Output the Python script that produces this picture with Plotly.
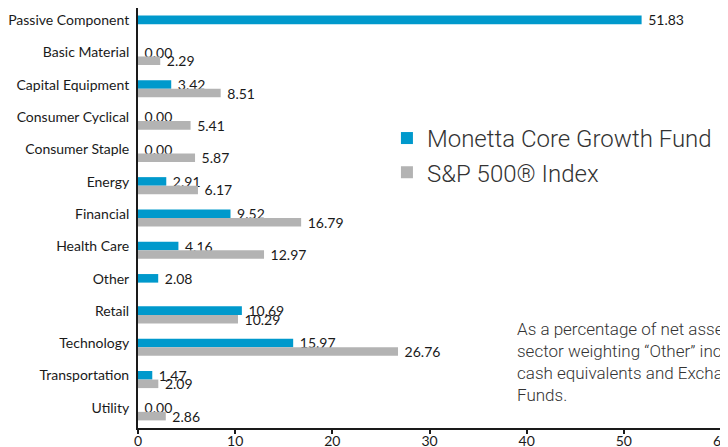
import plotly.graph_objects as go

categories = ["Passive Component", "Basic Material", "Capital Equipment", "Consumer Cyclical",
              "Consumer Staple", "Energy", "Financial", "Health Care", "Other", "Retail",
              "Technology", "Transportation", "Utility"]
fund_values = [51.83, 0.00, 3.42, 0.00, 0.00, 2.91, 9.52, 4.16, 2.08, 10.69, 15.97, 1.47, 0.00]
index_values = [None, 2.29, 8.51, 5.41, 5.87, 6.17, 16.79, 12.97, None, 10.29, 26.76, 2.09, 2.86]
x_ticks = [0, 10, 20, 30, 40, 50, 60]
series_names = ["Monetta Core Growth Fund", "S&P 500® Index"]
note_text = ("As a percentage of net assets. The<br>sector weighting “Other” includes<br>"
             "cash equivalents and Exchange Traded<br>Funds.")

BLUE = "#0099cc"
GRAY = "#b3b3b3"
LABEL_FONT = dict(family="Lato, Carlito, Open Sans, sans-serif", size=14, color="#1a1a1a")

fig = go.Figure()
fig.add_trace(go.Bar(
    y=categories, x=fund_values, orientation="h", name=series_names[0],
    marker=dict(color=BLUE, line=dict(width=0)),
    text=[f"\u00a0{v:.2f}" for v in fund_values], textposition="outside",
    textfont=LABEL_FONT, constraintext="none", cliponaxis=False,
))
fig.add_trace(go.Bar(
    y=categories, x=index_values, orientation="h", name=series_names[1],
    marker=dict(color=GRAY, line=dict(width=0)),
    text=[("" if v is None else f"\u00a0{v:.2f}") for v in index_values], textposition="outside",
    textfont=LABEL_FONT, constraintext="none", cliponaxis=False,
))

fig.update_layout(
    width=720, height=439,
    margin=dict(l=130, r=7, t=0, b=19),
    paper_bgcolor="white", plot_bgcolor="white",
    barmode="group", bargap=0.47, bargroupgap=0,
    showlegend=True,
    legend=dict(x=0.427, y=0.743, xanchor="left", yanchor="top",
                font=dict(family="Roboto, sans-serif", size=24, color="#333333", weight=300),
                bgcolor="rgba(0,0,0,0)", itemclick=False),
    xaxis=dict(range=[0, 60], tickvals=x_ticks, showgrid=False, zeroline=False,
               showline=True, linecolor="#1a1a1a", linewidth=2,
               ticks="outside", ticklen=4, tickcolor="#1a1a1a", tickwidth=1.5,
               ticklabelstandoff=-5,
               tickfont=LABEL_FONT, automargin=False, ticklabeloverflow="allow"),
    yaxis=dict(autorange="reversed", showgrid=False, zeroline=False,
               showline=True, linecolor="#1a1a1a", linewidth=2,
               ticks="", ticklabelstandoff=4, ticklabelshift=4, tickfont=LABEL_FONT,
               automargin=False),
    annotations=[dict(
        text=note_text, xref="paper", yref="paper", x=0.647, y=0.265,
        xanchor="left", yanchor="top", align="left", showarrow=False,
        font=dict(family="Roboto, sans-serif", size=17, color="#333333", weight=300),
    )],
)

fig.write_html("out.html")
